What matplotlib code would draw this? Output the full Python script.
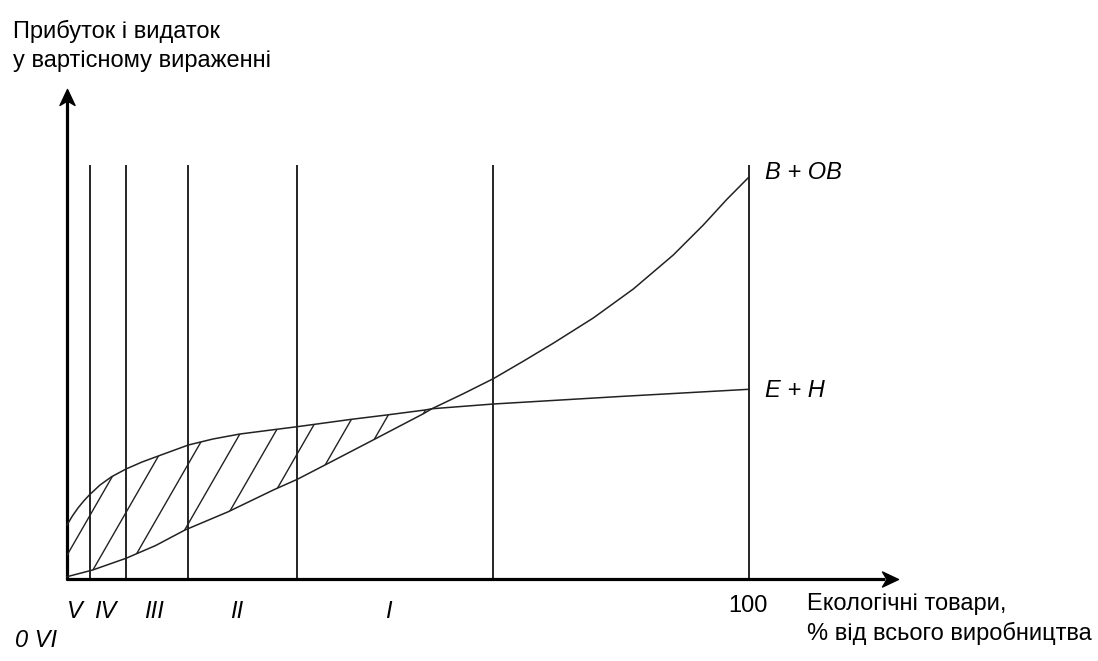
import numpy as np
import matplotlib
matplotlib.use('Agg')
from matplotlib import pyplot as plt
from matplotlib.patches import Polygon
from matplotlib.path import Path
from matplotlib.markers import MarkerStyle
from matplotlib.transforms import Affine2D

plt.rcParams['font.family'] = ['Liberation Sans', 'DejaVu Sans']

# межі зон (% екологічних товарів)
zone_bounds = [3.4, 8.65, 17.7, 33.7, 62.5, 100]
zone_names = ['V', 'IV', 'III', 'II', 'I']
zone_label_x = [1.2, 5.6, 12.8, 24.9, 47.1]

# крива Е + Н (верхня S-подібна)
eh_x = [0, 0.8, 1.61, 2.45, 3.27, 4.84, 6.55, 8.65, 11.0, 13.39, 17.79, 21.41, 25.37, 30.75, 33.77,
        41.74, 46.88, 52.49, 53.5, 62.51, 81.09, 100]
eh_y = [13.43, 15.7, 17.66, 19.4, 20.9, 23.38, 25.45, 27.36, 29.1, 30.6, 33.33, 34.83, 36.07, 37.24, 37.89,
        39.73, 40.8, 42.04, 42.35, 43.53, 45.4, 47.19]

# крива В + ОВ (нижня, зростає)
vov_x = [0, 3.77, 8.65, 13.0, 17.3, 23.65, 30.25, 33.77, 37.83, 44.68, 52.24, 53.5,
         58.11, 62.51, 66.91, 71.31, 77.17, 83.04, 88.9, 93.3, 96.73, 100]
vov_y = [0.57, 2.24, 5.15, 8.33, 12.19, 16.74, 22.14, 24.8, 28.36, 34.4, 41.1, 42.35,
         46.09, 49.83, 54.18, 58.66, 64.93, 72.14, 80.6, 88.06, 94.4, 100]

x_cross = 53.5

fig = plt.figure(figsize=(10.98, 6.61), dpi=100)
# осі: x=0 -> 67px, x=100 -> 749px; y=0 -> 579px, y=100 -> 177px
ax = fig.add_axes([67 / 1098, (661 - 579) / 661, (749 - 67) / 1098, (579 - 177) / 661])
ax.set_xlim(0, 100)
ax.set_ylim(0, 100)
ax.axis('off')

# осі зі стрілками
ax.plot([-0.2, 120], [0, 0], color='black', lw=2.3, clip_on=False, solid_capstyle='butt')
ax.plot([0, 0], [-0.3, 120], color='black', lw=2.3, clip_on=False, solid_capstyle='butt')
head = Path([(0, 0), (-1, 0.47), (-0.72, 0), (-1, -0.47), (0, 0)],
            [Path.MOVETO, Path.LINETO, Path.LINETO, Path.LINETO, Path.CLOSEPOLY])
head_x = MarkerStyle(head)
head_y = MarkerStyle(head, transform=Affine2D().rotate_deg(90))
ax.plot([121.9], [0], marker=head_x, markersize=23, color='black', mec='black', clip_on=False)
ax.plot([0], [121.9], marker=head_y, markersize=23, color='black', mec='black', clip_on=False)

# вертикальні межі зон
ax.vlines(zone_bounds, 0, 103, color='black', lw=1.2, clip_on=False)

# криві
ax.plot(eh_x, eh_y, color='#222222', lw=1.1, clip_on=False, solid_joinstyle='round')
ax.plot(vov_x, vov_y, color='#222222', lw=1.1, clip_on=False, solid_joinstyle='round')

# штрихування між кривими (зліва від перетину)
ex = np.array(eh_x); ey = np.array(eh_y)
vx = np.array(vov_x); vy = np.array(vov_y)
up = np.column_stack([ex[ex <= x_cross], ey[ex <= x_cross]])
lo = np.column_stack([vx[vx <= x_cross], vy[vx <= x_cross]])[::-1]
region = Polygon(np.vstack([up, lo]), closed=True, facecolor='none', edgecolor='none')
ax.add_patch(region)
slope = 2.95
yy = np.array([0, 60])
for x0 in np.arange(-2.0, 45, 5.04):
    ln, = ax.plot(x0 + yy / slope, yy, color='#222222', lw=1.0)
    ln.set_clip_path(region)

# підписи
fs = 17
ax.text(102.3, 101, 'В + ОВ', style='italic', fontsize=fs, va='center', ha='left')
ax.text(102.3, 47, 'Е + Н', style='italic', fontsize=fs, va='center', ha='left')
for name, xl in zip(zone_names, zone_label_x):
    ax.text(xl, -8.0, name, style='italic', fontsize=fs, va='center', ha='center')
ax.text(-7.6, -15.3, '0 VI', style='italic', fontsize=fs, va='center', ha='left')
ax.text(99.9, -6.8, '100', fontsize=fs, va='center', ha='center')
ax.text(108.5, -3.6, 'Екологічні товари,\n% від всього виробництва', fontsize=fs,
        va='top', ha='left', linespacing=1.35)
fig.text(13 / 1098, 1 - 20 / 661, 'Прибуток і видаток\nу вартісному вираженні', fontsize=fs,
         va='top', ha='left', linespacing=1.4)

plt.savefig('out.png', dpi=100)
